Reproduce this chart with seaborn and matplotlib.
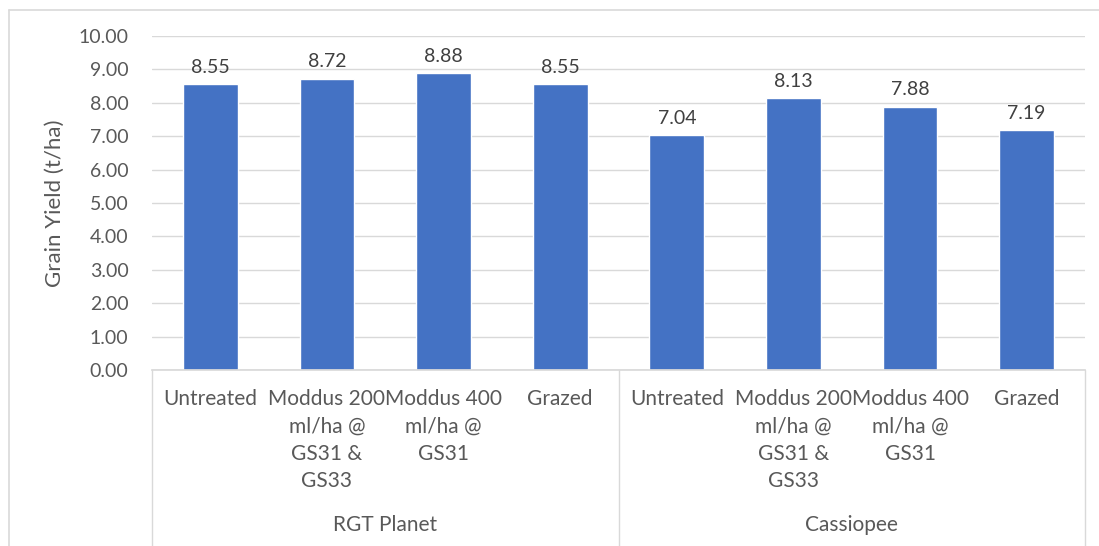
import pandas as pd
import matplotlib.pyplot as plt
import seaborn as sns
from matplotlib.lines import Line2D

# data
groups = ['RGT Planet', 'Cassiopee']
treatments = ['Untreated', 'Moddus 200 ml/ha @ GS31 & GS33', 'Moddus 400 ml/ha @ GS31', 'Grazed']
tick_labels = ['Untreated', 'Moddus 200\nml/ha @\nGS31 &\nGS33', 'Moddus 400\nml/ha @\nGS31', 'Grazed']
rgt_yield = [8.55, 8.72, 8.88, 8.55]
cassiopee_yield = [7.04, 8.13, 7.88, 7.19]

rows = []
for g, vals in zip(groups, [rgt_yield, cassiopee_yield]):
    for t, v in zip(treatments, vals):
        rows.append({'group': g, 'treatment': t, 'key': g + ' | ' + t, 'yield': v})
df = pd.DataFrame(rows)

sns.set_theme(style='white')
plt.rcParams['font.family'] = ['Lato', 'DejaVu Sans']
text_col = '#595959'
grid_col = '#D9D9D9'

fig = plt.figure(figsize=(10.99, 5.46), dpi=100)
ax = fig.add_axes([152 / 1099, 1 - 370 / 546, 933 / 1099, 334 / 546])

sns.barplot(data=df, x='key', y='yield', order=list(df['key']), color='#4472C4',
            width=0.47, saturation=1, ax=ax)

ax.set_ylim(0, 10)
ax.set_xlim(-0.5, 7.5)
ax.set_yticks(range(0, 11))
ax.set_yticklabels([f'{v:.2f}' for v in range(0, 11)])
ax.yaxis.grid(True, color=grid_col, lw=1)
ax.set_axisbelow(True)
ax.tick_params(axis='y', length=0, pad=17, labelsize=14, labelcolor=text_col)
ax.tick_params(axis='x', length=0, pad=14, labelsize=15, labelcolor=text_col)
ax.set_xticks(range(8))
ax.set_xticklabels(tick_labels * 2, linespacing=1.45, va='top')
ax.set_xlabel('')
ax.set_ylabel('Grain Yield (t/ha)', fontsize=16, color=text_col, labelpad=10)

for s in ['top', 'right', 'left']:
    ax.spines[s].set_visible(False)
ax.spines['bottom'].set_color(grid_col)

for c in ax.containers:
    ax.bar_label(c, labels=[f'{v:.2f}' for v in c.datavalues], padding=6,
                 fontsize=14, color='#404040')

# category box separators
for xpos in [-0.5, 3.5, 7.5]:
    ax.plot([xpos, xpos], [0, -0.6], transform=ax.get_xaxis_transform(),
            color=grid_col, lw=1, clip_on=False)

for i, g in enumerate(groups):
    ax.text(1.5 + 4 * i, -155 / 334, g, transform=ax.get_xaxis_transform(),
            ha='center', va='center', fontsize=15, color=text_col)

# outer chart frame
fig.add_artist(Line2D([8.5 / 1099, 8.5 / 1099], [0, 1 - 10 / 546], color=grid_col, lw=1.2))
fig.add_artist(Line2D([8.5 / 1099, 1], [1 - 10 / 546, 1 - 10 / 546], color=grid_col, lw=1.2))

plt.savefig('out.png', dpi=100)
